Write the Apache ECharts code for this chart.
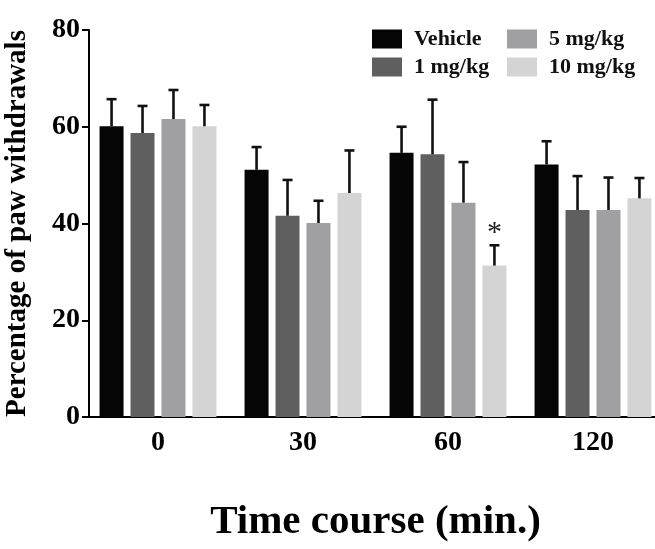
<!DOCTYPE html>
<html>
<head>
<meta charset="utf-8">
<script src="https://cdn.jsdelivr.net/npm/echarts@6/dist/echarts.min.js"></script>
<style>
  html, body { margin: 0; padding: 0; background: #fff; }
  #chart { width: 655px; height: 549px; }
</style>
</head>
<body>
<div id="chart"></div>
<script>
const categories = ['0', '30', '60', '120'];
const groupNames = ['Vehicle', '1 mg/kg', '5 mg/kg', '10 mg/kg'];

const vehicle = [60.1, 51.1, 54.6, 52.2];
const dose1 = [58.7, 41.6, 54.3, 42.8];
const dose5 = [61.6, 40.1, 44.3, 42.8];
const dose10 = [60.1, 46.3, 31.3, 45.2];

const vehicleErr = [5.6, 4.7, 5.4, 4.8];
const dose1Err = [5.6, 7.4, 11.3, 7.0];
const dose5Err = [6.0, 4.6, 8.4, 6.7];
const dose10Err = [4.4, 8.8, 4.2, 4.2];

// significance marks: [category index, group index, text]
const marks = [[2, 3, '*']];

const yTicks = [0, 20, 40, 60, 80];

const colors = ['#050505', '#5f5f5f', '#a0a0a3', '#d4d4d4'];
const means = [vehicle, dose1, dose5, dose10];
const errs = [vehicleErr, dose1Err, dose5Err, dose10Err];

const font = '"Liberation Serif", "Times New Roman", serif';
const barWidth = 24;
const barGapRatio = 0.29;
const pitch = barWidth * (1 + barGapRatio);

const errData = [];
means.forEach((arr, g) => {
  arr.forEach((v, c) => {
    const mark = marks.find(m => m[0] === c && m[1] === g);
    errData.push([c, g, v, v + errs[g][c], mark ? mark[2] : '']);
  });
});

const chart = echarts.init(document.getElementById('chart'));

const legendCommon = {
  orient: 'vertical',
  itemWidth: 30,
  itemHeight: 19,
  itemGap: 6,
  icon: 'rect',
  textStyle: {
    fontFamily: font,
    fontWeight: 'bold',
    fontSize: 22,
    lineHeight: 21,
    color: '#111',
    padding: [0, 0, 0, 7]
  }
};

chart.setOption({
  animation: false,
  legend: [
    Object.assign({ data: ['Vehicle', '1 mg/kg'], left: 367, top: 23 }, legendCommon),
    Object.assign({ data: ['5 mg/kg', '10 mg/kg'], left: 502, top: 23 }, legendCommon)
  ],
  grid: {
    left: 85.5,
    top: 30,
    width: 580,
    bottom: 132,
    outerBoundsMode: 'none',
    containLabel: false
  },
  xAxis: {
    type: 'category',
    data: categories,
    name: 'Time course (min.)',
    nameLocation: 'middle',
    nameGap: 85,
    nameTextStyle: {
      fontFamily: font,
      fontWeight: 'bold',
      fontSize: 41,
      color: '#000'
    },
    axisLine: { lineStyle: { color: '#000', width: 2 } },
    axisTick: { alignWithLabel: true, length: 6, lineStyle: { color: '#000', width: 2 } },
    axisLabel: {
      margin: 12,
      fontFamily: font,
      fontWeight: 'bold',
      fontSize: 28,
      color: '#000'
    }
  },
  yAxis: {
    type: 'value',
    min: 0,
    max: 80,
    interval: 20,
    offset: -3.5,
    name: 'Percentage of paw withdrawals',
    nameLocation: 'middle',
    nameGap: 57,
    nameTextStyle: {
      fontFamily: font,
      fontWeight: 'bold',
      fontSize: 29,
      color: '#000'
    },
    splitLine: { show: false },
    axisLine: { show: true, lineStyle: { color: '#000', width: 2 } },
    axisTick: { show: true, length: 7, lineStyle: { color: '#000', width: 2 } },
    axisLabel: {
      margin: 9,
      fontFamily: font,
      fontWeight: 'bold',
      fontSize: 28,
      color: '#000',
      formatter: v => (yTicks.includes(v) ? String(v) : '')
    }
  },
  series: groupNames.map((name, g) => ({
    type: 'bar',
    name: name,
    data: means[g],
    barWidth: barWidth,
    barGap: (barGapRatio * 100) + '%',
    itemStyle: { color: colors[g] },
    z: 2
  })).concat([{
    type: 'custom',
    name: 'err',
    data: errData,
    z: 3,
    encode: { x: 0, y: 3 },
    renderItem: function (params, api) {
      const c = api.value(0);
      const g = api.value(1);
      const base = api.coord([c, api.value(2)]);
      const top = api.coord([c, api.value(3)]);
      const x = base[0] + (g - 1.5) * pitch;
      const style = { stroke: '#111', lineWidth: 2.6 };
      const children = [
        { type: 'line', shape: { x1: x, y1: base[1], x2: x, y2: top[1] }, style: style },
        { type: 'line', shape: { x1: x - 5, y1: top[1], x2: x + 5, y2: top[1] }, style: style }
      ];
      const label = api.value(4);
      if (label) {
        children.push({
          type: 'text',
          x: x,
          y: top[1] - 12,
          style: {
            text: label,
            fontFamily: font,
            fontSize: 30,
            fill: '#222',
            align: 'center',
            verticalAlign: 'middle'
          }
        });
      }
      return { type: 'group', children: children };
    }
  }])
});
</script>
</body>
</html>
